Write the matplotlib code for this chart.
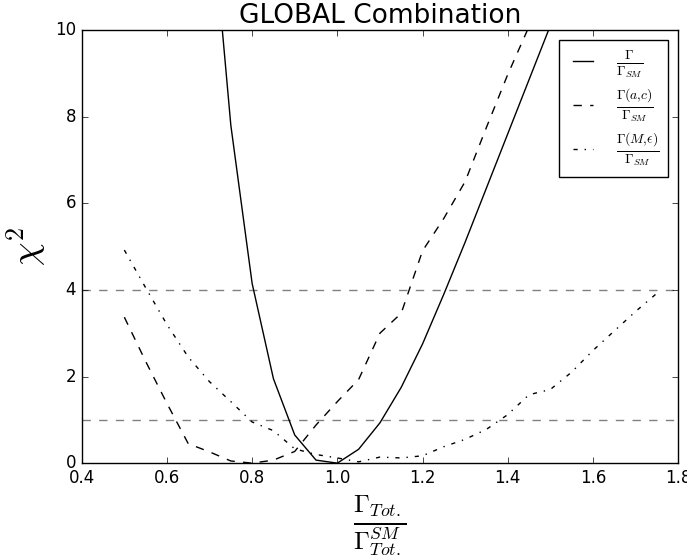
import matplotlib
matplotlib.use("Agg")
import matplotlib.pyplot as plt
import numpy as np

plt.style.use('classic')
plt.rcParams['mathtext.fontset'] = 'cm'
plt.rcParams['figure.facecolor'] = 'white'
plt.rcParams['savefig.facecolor'] = 'white'

# width ratio Gamma / Gamma_SM
x_tot = [0.70, 0.75, 0.80, 0.85, 0.90, 0.95, 1.00, 1.05, 1.10, 1.15,
         1.20, 1.25, 1.30, 1.35, 1.40, 1.45, 1.50, 1.55]
chi_tot = [13.3, 7.8, 4.15, 1.95, 0.65, 0.07, 0.0, 0.32, 0.93, 1.75,
           2.75, 3.9, 5.1, 6.35, 7.6, 8.85, 10.1, 11.3]

# Gamma(a,c) / Gamma_SM
x_ac = [0.50, 0.55, 0.60, 0.65, 0.70, 0.75, 0.80, 0.85, 0.90, 0.95, 1.00,
        1.05, 1.10, 1.15, 1.20, 1.25, 1.30, 1.35, 1.40, 1.45, 1.50]
chi_ac = [3.37, 2.35, 1.38, 0.45, 0.26, 0.05, 0.0, 0.07, 0.27, 0.88, 1.42,
          1.93, 3.0, 3.46, 4.9, 5.65, 6.5, 7.75, 8.97, 10.08, 11.3]

# Gamma(M,eps) / Gamma_SM
x_me = [0.50, 0.55, 0.60, 0.65, 0.70, 0.75, 0.80, 0.85, 0.90, 0.95, 1.00,
        1.05, 1.10, 1.15, 1.20, 1.25, 1.30, 1.35, 1.40, 1.45, 1.50, 1.55,
        1.60, 1.65, 1.70, 1.75]
chi_me = [4.92, 4.05, 3.2, 2.45, 1.88, 1.42, 0.95, 0.75, 0.33, 0.2, 0.12,
          0.03, 0.14, 0.12, 0.17, 0.38, 0.55, 0.78, 1.12, 1.58, 1.7, 2.1,
          2.6, 3.05, 3.5, 3.92]

conf_levels = [1, 4]

fig = plt.figure(figsize=(6.87, 5.56), dpi=100)
ax = fig.add_axes([0.119, 0.167, 0.868, 0.779])

for c in conf_levels:
    ax.axhline(c, color='gray', ls='--', lw=1)

ax.plot(x_tot, chi_tot, 'k-', lw=1, label=r'$\frac{\Gamma}{\Gamma_{SM}}$')
ax.plot(x_ac, chi_ac, 'k--', lw=1, label=r'$\frac{\Gamma(a{,}c)}{\Gamma_{SM}}$')
ax.plot(x_me, chi_me, 'k-.', lw=1, label=r'$\frac{\Gamma(M{,}\epsilon)}{\Gamma_{SM}}$')

ax.set_xlim(0.4, 1.8)
ax.set_ylim(0, 10)
ax.set_xticks(np.arange(0.4, 1.81, 0.2))
ax.set_yticks([0, 2, 4, 6, 8, 10])
ax.tick_params(labelsize=12)

ax.set_title('GLOBAL Combination', fontsize=19)
ax.set_xlabel(r'$\frac{\Gamma_{Tot.}}{\Gamma_{Tot.}^{SM}}$', fontsize=26)
ax.set_ylabel(r'$\chi^2$', fontsize=27)

leg = ax.legend(loc='upper right', fontsize=14, labelspacing=0.32,
                handlelength=1.6, handletextpad=0.9, borderpad=0.45,
                borderaxespad=0.5)

fig.savefig('out.png', dpi=100)
